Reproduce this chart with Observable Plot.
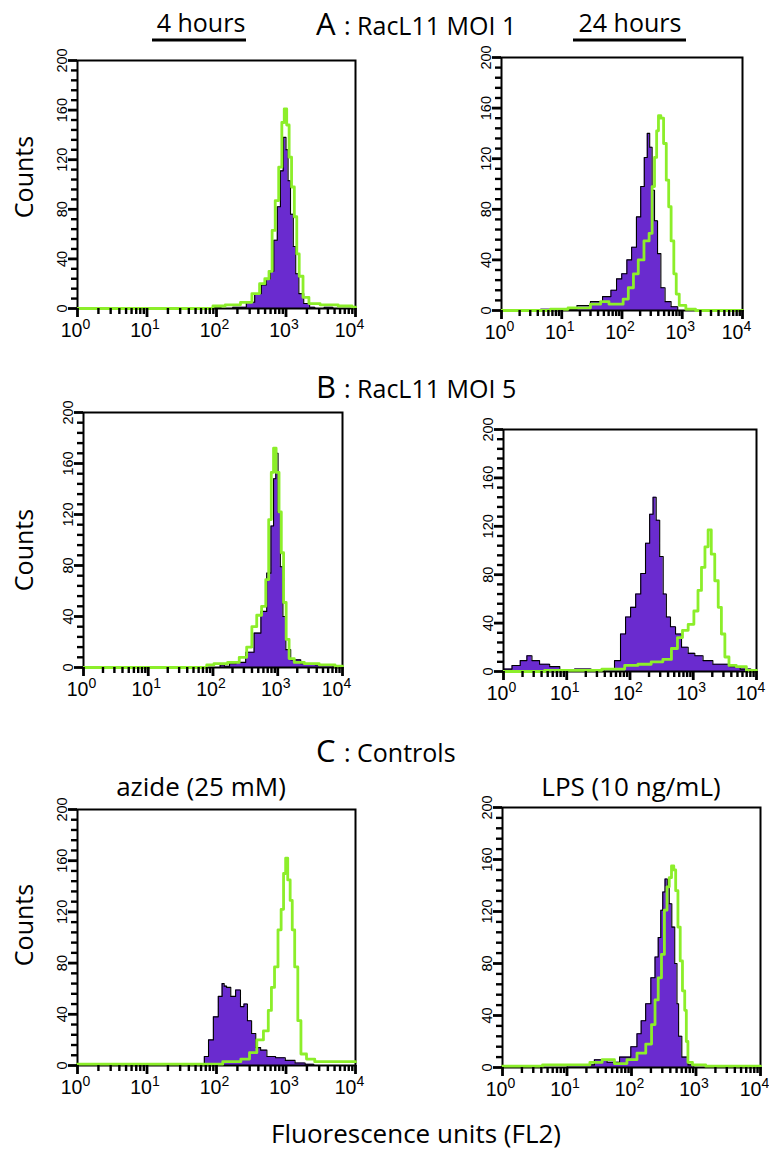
<!DOCTYPE html>
<html><head><meta charset="utf-8">
<script src="https://cdn.jsdelivr.net/npm/d3@7"></script>
<script src="https://cdn.jsdelivr.net/npm/@observablehq/plot@0.6"></script>
<style>
body{margin:0;background:#fff;}
#chart{position:relative;width:769px;height:1150px;background:#fff;overflow:hidden;}
#chart svg{position:absolute;}
</style></head><body><div id="chart"></div>
<script>
// ---- data: [fluorescence units (FL2), counts] ----
const A_4h_fill = [[1,0],[79,0],[107,1],[126,0],[234,1],[309,5],[407,12],[479,19],[562,24],[631,30],[708,55],[794,82],[871,111],[955,138],[1047,128],[1096,103],[1230,76],[1318,50],[1445,28],[1622,12],[1995,4],[2399,1],[2818,0],[4467,1],[5012,0],[10000,0]];
const A_4h_line = [[1,0],[79,0],[100,2],[178,3],[275,5],[380,12],[457,20],[537,24],[603,30],[661,63],[741,87],[832,114],[912,150],[977,161],[1072,148],[1148,122],[1259,98],[1380,74],[1479,44],[1622,26],[1905,9],[2399,4],[3981,3],[7943,2],[10000,1]];
const A_24h_fill = [[1,0],[4,0],[5,1],[11,0],[14,1],[23,4],[39,7],[58,11],[74,16],[89,25],[110,29],[132,40],[158,50],[191,74],[219,98],[251,121],[275,140],[302,129],[331,95],[363,71],[417,45],[468,18],[575,7],[741,3],[955,0],[10000,0]];
const A_24h_line = [[1,0],[6,0],[7,1],[23,2],[39,5],[50,7],[74,5],[95,5],[115,9],[141,18],[170,29],[204,40],[263,55],[302,61],[331,98],[363,121],[389,142],[417,154],[468,152],[513,132],[575,103],[617,82],[692,55],[759,29],[832,13],[955,4],[1380,1],[2000,0],[10000,0]];
const B_4h_fill = [[1,0],[126,0],[132,2],[170,1],[191,3],[269,4],[380,12],[490,27],[617,44],[741,74],[832,111],[891,148],[977,168],[1047,122],[1148,79],[1259,40],[1413,14],[1778,6],[2884,3],[5000,2],[10000,1]];
const B_4h_line = [[1,0],[79,0],[81,2],[132,3],[214,4],[302,8],[363,16],[437,32],[513,41],[617,48],[692,69],[759,116],[832,153],[891,172],[1000,153],[1096,122],[1175,90],[1288,51],[1413,22],[1585,7],[2042,4],[3236,3],[5888,2],[10000,1]];
const B_24h_fill = [[1,2],[1.175,2],[1.585,5],[2.138,9],[2.57,13],[3.09,9],[4.467,6],[6.457,4],[9.333,1],[19.05,2],[30.9,0],[50.1,2],[64.6,9],[77.6,31],[93.3,45],[112,53],[135,64],[162,81],[191,106],[219,130],[245,144],[275,125],[316,95],[355,64],[398,45],[479,37],[575,31],[741,20],[933,15],[1202,13],[1698,9],[2455,6],[3162,6],[4571,4],[6607,2],[10000,1]];
const B_24h_line = [[1,0],[20,1],[64.6,2],[105,5],[170,6],[275,8],[398,10],[513,19],[617,28],[741,34],[933,39],[1122,50],[1259,67],[1445,86],[1622,103],[1820,117],[2042,97],[2344,75],[2630,53],[2951,31],[3388,12],[3981,5],[5754,4],[8318,1],[10000,1]];
const C_azide_fill = [[1,0],[60,0],[63,1],[71,7],[83,20],[98,38],[115,54],[126,64],[132,62],[148,61],[174,54],[204,59],[240,46],[257,48],[302,35],[339,25],[398,14],[468,12],[603,7],[832,6],[1148,4],[1585,2],[2239,1],[2818,0],[10000,0]];
const C_azide_line = [[1,1],[79,1],[191,3],[263,5],[339,10],[427,20],[525,27],[589,43],[646,61],[724,77],[813,106],[891,122],[955,150],[1023,162],[1096,145],[1202,129],[1259,106],[1413,77],[1549,35],[1738,9],[2239,5],[3000,3],[10000,3]];
const C_lps_fill = [[1,0],[3.5,1],[5,0],[20.4,2],[34.7,6],[50.1,4],[85.1,8],[112,16],[132,26],[151,36],[182,49],[219,69],[245,85],[275,100],[295,121],[316,135],[347,145],[372,139],[398,126],[447,108],[490,80],[525,49],[550,24],[661,8],[851,2],[1000,0],[10000,0]];
const C_lps_line = [[1,1],[17.4,2],[29.5,4],[41.7,6],[70.8,3],[102,6],[145,11],[191,18],[219,33],[245,52],[275,69],[309,87],[339,121],[372,139],[398,146],[437,155],[468,152],[501,136],[550,108],[589,82],[646,59],[692,44],[724,20],[776,4],[1000,2],[2000,1],[10000,1]];

// ---- tick values ----
const yMajorTicks = [0,40,80,120,160,200];
const yMinorTicks = [8,16,24,32,48,56,64,72,88,96,104,112,128,136,144,152,168,176,184,192];
const xMajorTicks = [1,10,100,1000,10000];
const xMinorTicks = [2,3,4,5,6,7,8,9,20,30,40,50,60,70,80,90,200,300,400,500,600,700,800,900,2000,3000,4000,5000,6000,7000,8000,9000];

const PURPLE = "#6a2bcf";
const GREEN = "#8cee2a";

const panels = [
  {frame:[77,60,355,308],  fill:A_4h_fill,   line:A_4h_line},
  {frame:[501,57,742,310], fill:A_24h_fill,  line:A_24h_line},
  {frame:[83,412,342,667], fill:B_4h_fill,   line:B_4h_line},
  {frame:[503,429,756,671],fill:B_24h_fill,  line:B_24h_line},
  {frame:[77,809,355,1065],fill:C_azide_fill,line:C_azide_line},
  {frame:[502,807,760,1067],fill:C_lps_fill, line:C_lps_line}
];

const chart = document.getElementById("chart");
const ml=42, mr=8, mt=8, mb=48;

for (const p of panels) {
  const [L,T,R,B] = p.frame;
  const fw = R-L, fh = B-T;
  const svg = Plot.plot({
    width:fw+ml+mr, height:fh+mt+mb,
    marginLeft:ml, marginRight:mr, marginTop:mt, marginBottom:mb,
    x:{type:"log", domain:[1,10000]},
    y:{domain:[0,200]},
    style:{background:"transparent", fontFamily:"'Liberation Sans', Arial, Helvetica, sans-serif", color:"black", overflow:"visible"},
    marks:[
      Plot.areaY(p.fill,{x:d=>d[0], y:d=>d[1], curve:"step", fill:PURPLE}),
      Plot.lineY(p.fill,{x:d=>d[0], y:d=>d[1], curve:"step", stroke:"black", strokeWidth:1.1}),
      Plot.frame({stroke:"black", strokeWidth:2}),
      Plot.lineY(p.line,{x:d=>d[0], y:d=>d[1], curve:"step", stroke:GREEN, strokeWidth:2.8}),
      // y ticks (outward, left)
      Plot.ruleY(yMinorTicks,{y:d=>d, insetLeft:-6, insetRight:fw, stroke:"black", strokeWidth:2.4}),
      Plot.ruleY(yMajorTicks,{y:d=>d, insetLeft:-9, insetRight:fw, stroke:"black", strokeWidth:2.8}),
      // x ticks (outward, below)
      Plot.ruleX(xMinorTicks,{x:d=>d, insetTop:fh, insetBottom:-6, stroke:"black", strokeWidth:2.4}),
      Plot.ruleX(xMajorTicks,{x:d=>d, insetTop:fh, insetBottom:-9, stroke:"black", strokeWidth:2.8}),
      Plot.axisY({ticks:yMajorTicks, tickSize:0, tickRotate:-90, tickPadding:11, fontSize:14.5, fill:"black", label:null}),
      Plot.axisX({ticks:xMajorTicks, tickSize:0, tickPadding:15, fontSize:19.5, fill:"black", label:null,
        tickFormat:d=>"10^"+Math.round(Math.log10(d))})
    ]
  });
  svg.style.left = (L-ml)+"px";
  svg.style.top = (T-mt)+"px";
  d3.select(svg).selectAll("text").each(function(){
    const m = /^10\^(\d)$/.exec(this.textContent);
    if(!m) return;
    const t = d3.select(this);
    t.text(null).attr("text-anchor","middle");
    t.append("tspan").attr("dx", m[1]==="4" ? -6 : -2).text("10");
    t.append("tspan").attr("dy",-8).attr("font-size",14).text(m[1]);
  });
  chart.appendChild(svg);
}

// ---- annotations ----
const ov = d3.select(chart).append("svg")
  .attr("width",769).attr("height",1150)
  .style("left","0px").style("top","0px").style("pointer-events","none")
  .attr("font-family","'Open Sans', 'Noto Sans', sans-serif").attr("fill","black");

ov.append("text").attr("x",201).attr("y",32).attr("text-anchor","middle").attr("font-size",25).text("4 hours");
ov.append("line").attr("x1",152).attr("x2",246).attr("y1",40).attr("y2",40).attr("stroke","black").attr("stroke-width",3);
ov.append("text").attr("x",630).attr("y",32).attr("text-anchor","middle").attr("font-size",25).text("24 hours");
ov.append("line").attr("x1",573).attr("x2",686).attr("y1",40).attr("y2",40).attr("stroke","black").attr("stroke-width",3);

function sectionTitle(letter, rest, y){
  const t = ov.append("text").attr("x",316).attr("y",y);
  t.append("tspan").attr("font-size",31).text(letter);
  t.append("tspan").attr("x",344).attr("font-size",25).text(": "+rest);
}
sectionTitle("A","RacL11 MOI 1",35);
sectionTitle("B","RacL11 MOI 5",398);
sectionTitle("C","Controls",762);

ov.append("text").attr("x",201).attr("y",796).attr("text-anchor","middle").attr("font-size",26).text("azide (25 mM)");
ov.append("text").attr("x",631).attr("y",796).attr("text-anchor","middle").attr("font-size",26).text("LPS (10 ng/mL)");

for (const cy of [177,550,925]) {
  ov.append("text").attr("transform",`translate(33,${cy}) rotate(-90)`).attr("text-anchor","middle").attr("font-size",25).text("Counts");
}
ov.append("text").attr("x",416).attr("y",1143).attr("text-anchor","middle").attr("font-size",26).text("Fluorescence units (FL2)");
</script></body></html>
